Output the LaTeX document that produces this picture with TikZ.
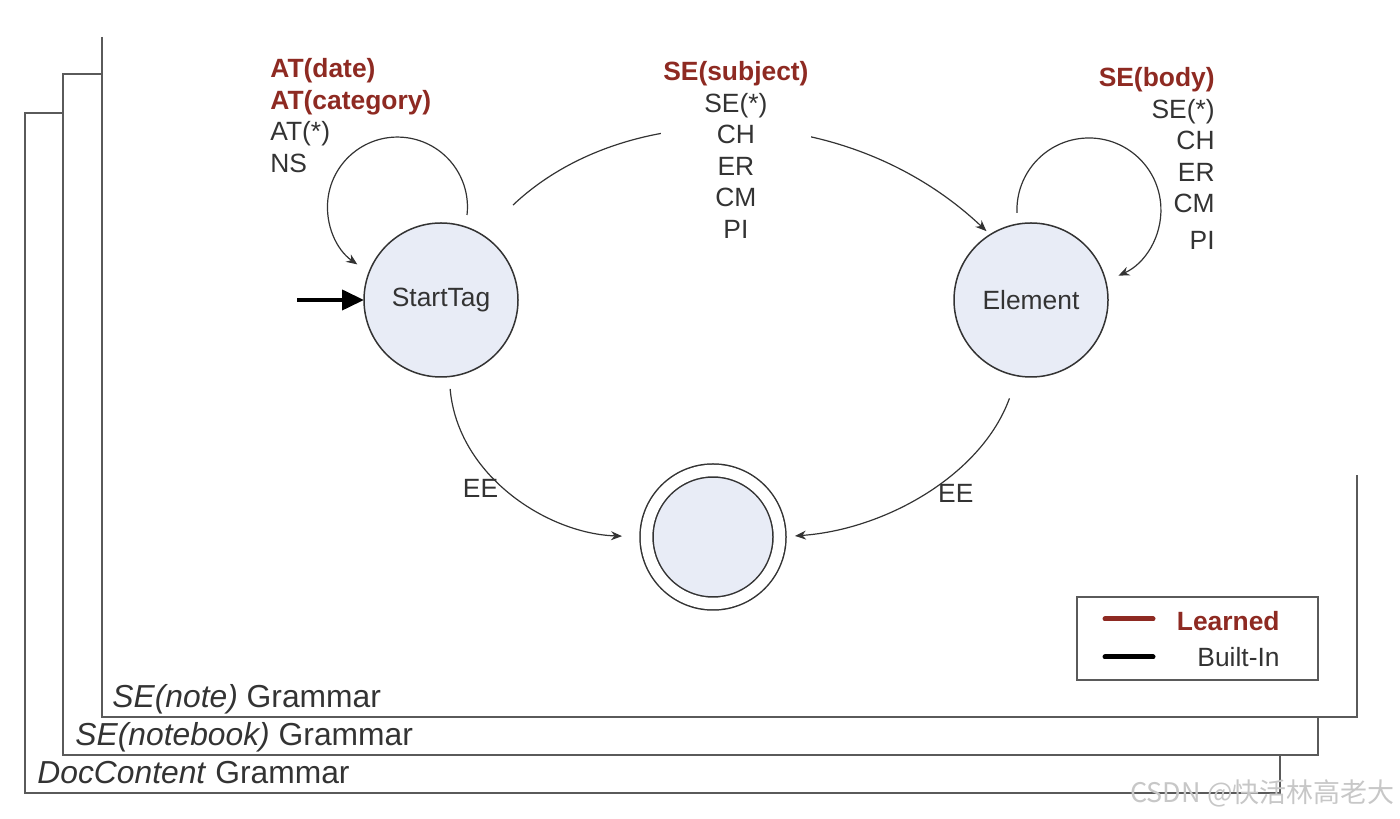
\documentclass[tikz,border=0pt]{standalone}
\usepackage{fontspec}
\setmainfont{Liberation Sans}
\newfontfamily\cjk{Noto Sans CJK SC}
\usepackage{tikz}
\usetikzlibrary{arrows.meta,positioning}

\definecolor{learned}{HTML}{8E2A22}
\definecolor{txt}{HTML}{333333}
\definecolor{framec}{HTML}{5A5A5A}
\definecolor{statefill}{HTML}{E8ECF6}
\newcommand{\lrn}[1]{{\bfseries\color{learned}#1}}

\tikzset{
  state/.style={circle, draw=txt, fill=statefill, line width=0.75pt, minimum size=77pt, inner sep=0pt, outer sep=0pt, text=txt, font=\fontsize{13.2}{16}\selectfont},
  tr/.style={draw=txt, line width=0.6pt, -{Stealth[length=5.5pt,width=4.5pt]}},
  lbl/.style={inner sep=0pt, text=txt, font=\fontsize{13.2}{15.75}\selectfont},
  frame/.style={draw=framec, line width=1pt},
  gram/.style={anchor=base west, inner sep=0pt, text=txt, font=\fontsize{15.9}{19}\selectfont},
}

\begin{document}
\begin{tikzpicture}[x=0.5pt, y=0.5pt]
\useasboundingbox (0,0) rectangle (1400,818);
% grammar frames
\draw[frame] (63,705) -- (25,705) -- (25,25) -- (1280,25) -- (1280,63);
\draw[frame] (102,744) -- (63,744) -- (63,63) -- (1318,63) -- (1318,101);
\draw[frame] (102,781) -- (102,101) -- (1357,101) -- (1357,343);
\node[gram] (gnote) at (112,110) {\textit{SE(note)} Grammar};
\node[gram] (gbook) at (75,73) {\textit{SE(notebook)} Grammar};
\node[gram] (gdoc) at (37,35) {\textit{DocContent} Grammar};

% states
\node[state] (st) at (441,518) {StartTag};
\node[state] (el) at (1031,518) {Element};
\node[state, double, double distance=5.75pt, minimum size=66.5pt] (fin) at (713,281) {};

\coordinate[left=33.5pt of st] (init);
\draw[black, line width=2pt, -{Triangle[length=11pt,width=10pt]}] (init) -- (st);

% transitions
\draw[tr] ([shift={(13pt,42.5pt)}]st.center) arc[start angle=-6.5, end angle=235, radius=35pt];
\node[lbl, align=left, anchor=west] (atlbl) at (270,702.5) {\lrn{AT(date)}\\ \lrn{AT(category)}\\ AT(*)\\ NS};

\draw[tr] ([shift={(-7pt,43.5pt)}]el.center) arc[start angle=182.4, end angle=-65.8, radius=36pt];
\node[lbl, align=right, anchor=east] (bodylbl) at (1215,659.5) {\lrn{SE(body)}\\ SE(*)\\ CH\\ ER\\ CM\\[2.5pt] PI};

\draw[tr, shorten <=21.5pt, shorten >=2.6pt] (st.58) to[out=43.5, in=136.6]
  node[lbl, midway, yshift=-8.75pt, fill=white, inner xsep=1pt, align=center] (selbl) {\lrn{SE(subject)}\\ SE(*)\\ CH\\ ER\\ CM\\ PI} (el.122.4);

\draw[tr, shorten <=6.2pt, shorten >=12.25pt] (st.-84.5) to[out=-85, in=178] node[lbl, midway, left=7.5pt, yshift=2pt] (ee1) {EE} (fin.180);
\draw[tr, shorten <=12pt, shorten >=7.75pt] (el.-100) to[out=250, in=4, looseness=0.94] node[lbl, midway, right=6.5pt, yshift=-1pt] (ee2) {EE} (fin.0);

% legend
\draw[draw=framec, line width=0.75pt] (1077,138) rectangle (1318,221);
\draw[learned, line width=2.5pt, line cap=round] (1105,199) -- (1153,199);
\draw[black, line width=2.5pt, line cap=round] (1105,161) -- (1153,161);
\node[lbl, anchor=east] (lgl) at (1280,197) {\lrn{Learned}};
\node[lbl, anchor=east] (lgb) at (1280,161) {Built-In};

\node[anchor=east, inner sep=0pt, text=black!22, font=\cjk\fontsize{13.5}{16}\selectfont] (wm) at (1395,25) {CSDN @快活林高老大};
\end{tikzpicture}
\end{document}
